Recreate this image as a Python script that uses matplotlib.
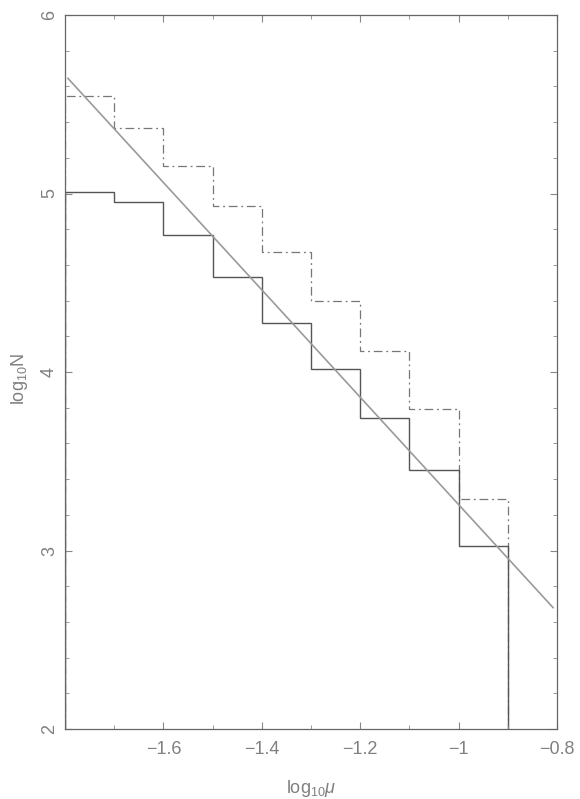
import matplotlib
matplotlib.use("Agg")
import matplotlib.pyplot as plt
import numpy as np
from matplotlib.ticker import MultipleLocator

plt.rcParams['font.family'] = ['Liberation Sans', 'DejaVu Sans']
plt.rcParams['mathtext.fontset'] = 'custom'
plt.rcParams['mathtext.rm'] = 'Liberation Sans'
plt.rcParams['mathtext.it'] = 'Liberation Sans:italic'

# Data
bin_edges = [-1.8, -1.7, -1.6, -1.5, -1.4, -1.3, -1.2, -1.1, -1.0, -0.9]
solid_logN = [5.01, 4.95, 4.765, 4.53, 4.277, 4.015, 3.744, 3.45, 3.027]
dashdot_logN = [5.548, 5.365, 5.156, 4.93, 4.67, 4.40, 4.12, 3.79, 3.287]
fit_x = [-1.794, -0.808]
fit_y = [5.645, 2.68]

fig = plt.figure(figsize=(5.8, 7.99), dpi=100)
ax = fig.add_axes([65/580, 70/799, (557-65)/580, (729-15)/799])

ax.plot(fit_x, fit_y, color="#9a9a9a", lw=1.2)
ax.stairs(dashdot_logN, bin_edges, baseline=2, color="#777777", lw=0.9,
          linestyle=(0, (7, 3, 1.5, 3)))
ax.stairs(solid_logN, bin_edges, baseline=2, color="#555555", lw=1.0)

ax.set_xlim(-1.8, -0.8)
ax.set_ylim(2, 6)
ax.xaxis.set_major_locator(MultipleLocator(0.2))
ax.xaxis.set_minor_locator(MultipleLocator(0.1))
ax.yaxis.set_major_locator(MultipleLocator(1))
ax.yaxis.set_minor_locator(MultipleLocator(0.2))
ax.tick_params(which="both", direction="in", top=True, right=True, color="#888888")
ax.tick_params(which="major", length=5, width=0.8)
ax.tick_params(which="minor", length=3, width=0.6)
ax.tick_params(axis="x", labelsize=13, labelcolor="#808080", pad=9)
ax.tick_params(axis="y", labelsize=13, labelcolor="#808080", pad=5, labelrotation=90)
ax.set_xticks([-1.6, -1.4, -1.2, -1.0, -0.8])
ax.set_xticklabels(["\u22121.6", "\u22121.4", "\u22121.2", "\u22121", "\u22120.8"])
ax.set_yticks([2, 3, 4, 5, 6])
ax.set_yticklabels(["2", "3", "4", "5", "6"], va="center")
for s in ax.spines.values():
    s.set_color("#666666")
    s.set_linewidth(0.9)

ax.set_xlabel(r"log$_{10}\mathit{\mu}$", fontsize=13, color="#808080", labelpad=14)
ax.set_ylabel(r"log$_{10}$N", fontsize=13, color="#808080", labelpad=6)
ax.yaxis.set_label_coords(-0.072, 0.49)

fig.savefig("out.png", dpi=100)
